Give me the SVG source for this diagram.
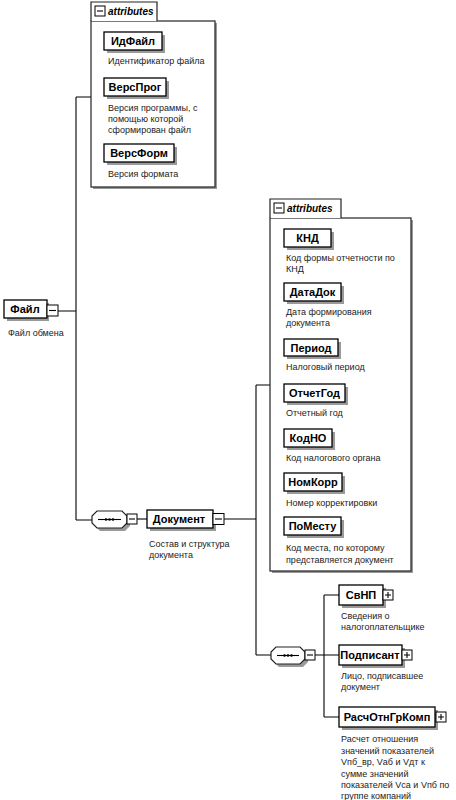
<svg xmlns="http://www.w3.org/2000/svg" width="456" height="800" viewBox="0 0 456 800">
<style>
.bg{fill:#fff}
.sh{fill:#9a9a9a}
.box{fill:#fff;stroke:#000;stroke-width:1.3}
.nm{font-family:"Liberation Sans",Arial,sans-serif;font-weight:bold;font-size:11px;fill:#000}
.ds{font-family:"Liberation Sans",Arial,sans-serif;font-size:9px;fill:#222}
.at{font-family:"Liberation Sans",Arial,sans-serif;font-weight:bold;font-style:italic;font-size:10px;fill:#000}
.ln{fill:none;stroke:#000;stroke-width:1.1}
.pm{fill:#fff;stroke:#000;stroke-width:1}
.grp{fill:#fff;stroke:#222;stroke-width:1.2}
</style>
<rect class="bg" x="0" y="0" width="456" height="800"/>

<g id="connectors">
  <path class="ln" d="M58,311 H76 M76,97 V520 M76,97 H91 M76,520 H92"/>
  <path class="ln" d="M137,519 H147"/>
  <path class="ln" d="M224,519 H256 M256,385 V655 M256,385 H270 M256,655 H271"/>
  <path class="ln" d="M313,655 H324 M324,595 V717 M324,595 H339 M324,655 H339 M324,717 H339"/>
</g>

<g id="attributes1">
  <rect class="sh" x="93" y="23" width="124" height="166"/>
  <rect class="grp" x="91" y="21" width="124" height="166"/>
  <path class="grp" d="M91,21 V2 H157 V21"/>
  <rect class="pm" x="95" y="6" width="10" height="10"/>
  <path class="ln" d="M97,11 H103"/>
  <text class="at" x="108" y="15">attributes</text>
</g>

<g id="n-IdFail">
  <rect class="sh" x="107" y="35" width="58" height="18"/>
  <rect class="box" x="104" y="32" width="58" height="18"/>
  <text class="nm" x="133" y="45" text-anchor="middle">ИдФайл</text>
  <text class="ds" x="108" y="64">Идентификатор файла</text>
</g>
<g id="n-VersProg">
  <rect class="sh" x="107" y="81" width="62" height="18"/>
  <rect class="box" x="104" y="78" width="62" height="18"/>
  <text class="nm" x="135" y="91" text-anchor="middle">ВерсПрог</text>
  <text class="ds" x="108" y="111">Версия программы, с</text>
  <text class="ds" x="108" y="122">помощью которой</text>
  <text class="ds" x="108" y="133">сформирован файл</text>
</g>
<g id="n-VersForm">
  <rect class="sh" x="107" y="147" width="70" height="18"/>
  <rect class="box" x="104" y="144" width="70" height="18"/>
  <text class="nm" x="139" y="157" text-anchor="middle">ВерсФорм</text>
  <text class="ds" x="108" y="177">Версия формата</text>
</g>

<g id="n-Fail">
  <rect class="sh" x="7" y="303" width="42" height="18"/>
  <rect class="box" x="4" y="300" width="43" height="18"/>
  <text class="nm" x="25" y="313" text-anchor="middle">Файл</text>
  <rect class="pm" x="47" y="305" width="11" height="11"/>
  <path class="ln" d="M49,310.5 H56"/>
  <text class="ds" x="8" y="336">Файл обмена</text>
</g>

<g id="seq1">
  <path class="sh" d="M100,514 H125 L130,519 V526 L125,531 H100 L95,526 V519 Z"/>
  <path class="grp" d="M97,511 H122 L127,516 V523 L122,528 H97 L92,523 V516 Z"/>
  <path class="ln" d="M98,519.5 H121"/>
  <circle cx="106" cy="519.5" r="1.3"/>
  <circle cx="109.5" cy="519.5" r="1.3"/>
  <circle cx="113" cy="519.5" r="1.3"/>
  <rect class="pm" x="127" y="514" width="10" height="10"/>
  <path class="ln" d="M129,519 H135"/>
</g>

<g id="n-Dokument">
  <rect class="sh" x="150" y="513" width="66" height="18"/>
  <rect class="box" x="147" y="510" width="66" height="18"/>
  <text class="nm" x="179" y="523" text-anchor="middle">Документ</text>
  <rect class="pm" x="213" y="513.5" width="11" height="11"/>
  <path class="ln" d="M215,519 H222"/>
  <text class="ds" x="149" y="547">Состав и структура</text>
  <text class="ds" x="149" y="558">документа</text>
</g>

<g id="attributes2">
  <rect class="sh" x="272" y="220" width="141" height="353"/>
  <rect class="grp" x="270" y="218" width="141" height="353"/>
  <path class="grp" d="M270,218 V199 H341 V218"/>
  <rect class="pm" x="274" y="203" width="10" height="10"/>
  <path class="ln" d="M276,208 H282"/>
  <text class="at" x="287" y="212">attributes</text>
</g>

<g id="n-KND">
  <rect class="sh" x="287" y="232" width="47" height="18"/>
  <rect class="box" x="284" y="229" width="47" height="18"/>
  <text class="nm" x="307.5" y="242" text-anchor="middle">КНД</text>
  <text class="ds" x="286" y="261">Код формы отчетности по</text>
  <text class="ds" x="286" y="272">КНД</text>
</g>
<g id="n-DataDok">
  <rect class="sh" x="287" y="286" width="57" height="18"/>
  <rect class="box" x="284" y="283" width="57" height="18"/>
  <text class="nm" x="312.5" y="296" text-anchor="middle">ДатаДок</text>
  <text class="ds" x="286" y="315">Дата формирования</text>
  <text class="ds" x="286" y="326">документа</text>
</g>
<g id="n-Period">
  <rect class="sh" x="287" y="342" width="54" height="17"/>
  <rect class="box" x="284" y="339" width="54" height="17"/>
  <text class="nm" x="311" y="351.5" text-anchor="middle">Период</text>
  <text class="ds" x="286" y="370">Налоговый период</text>
</g>
<g id="n-OtchetGod">
  <rect class="sh" x="287" y="387" width="61" height="18"/>
  <rect class="box" x="284" y="384" width="61" height="18"/>
  <text class="nm" x="314.5" y="397" text-anchor="middle">ОтчетГод</text>
  <text class="ds" x="286" y="416">Отчетный год</text>
</g>
<g id="n-KodNO">
  <rect class="sh" x="287" y="432" width="48" height="18"/>
  <rect class="box" x="284" y="429" width="48" height="18"/>
  <text class="nm" x="308" y="442" text-anchor="middle">КодНО</text>
  <text class="ds" x="286" y="461">Код налогового органа</text>
</g>
<g id="n-NomKorr">
  <rect class="sh" x="287" y="476" width="58" height="18"/>
  <rect class="box" x="284" y="473" width="58" height="18"/>
  <text class="nm" x="313" y="486" text-anchor="middle">НомКорр</text>
  <text class="ds" x="286" y="506">Номер корректировки</text>
</g>
<g id="n-PoMestu">
  <rect class="sh" x="287" y="520" width="57" height="18"/>
  <rect class="box" x="284" y="517" width="57" height="18"/>
  <text class="nm" x="312.5" y="530" text-anchor="middle">ПоМесту</text>
  <text class="ds" x="286" y="551">Код места, по которому</text>
  <text class="ds" x="286" y="563">представляется документ</text>
</g>

<g id="seq2">
  <path class="sh" d="M279,650 H303 L308,655 V662 L303,667 H279 L274,662 V655 Z"/>
  <path class="grp" d="M276,647 H300 L305,652 V659 L300,664 H276 L271,659 V652 Z"/>
  <path class="ln" d="M277,655.5 H299"/>
  <circle cx="284.5" cy="655.5" r="1.3"/>
  <circle cx="288" cy="655.5" r="1.3"/>
  <circle cx="291.5" cy="655.5" r="1.3"/>
  <rect class="pm" x="305" y="650" width="10" height="10"/>
  <path class="ln" d="M307,655 H313"/>
</g>

<g id="n-SvNP">
  <rect class="sh" x="342" y="588" width="44" height="20"/>
  <rect class="box" x="339" y="585" width="44" height="20"/>
  <text class="nm" x="361" y="599" text-anchor="middle">СвНП</text>
  <rect class="pm" x="383" y="590" width="10" height="10"/>
  <path class="ln" d="M385,595 H391 M388,592 V598"/>
  <text class="ds" x="341" y="619">Сведения о</text>
  <text class="ds" x="341" y="630">налогоплательщике</text>
</g>
<g id="n-Podpisant">
  <rect class="sh" x="342" y="648" width="63" height="20"/>
  <rect class="box" x="339" y="645" width="63" height="20"/>
  <text class="nm" x="370" y="659" text-anchor="middle">Подписант</text>
  <rect class="pm" x="402" y="650" width="10" height="10"/>
  <path class="ln" d="M404,655 H410 M407,652 V658"/>
  <text class="ds" x="341" y="679">Лицо, подписавшее</text>
  <text class="ds" x="341" y="690">документ</text>
</g>
<g id="n-RaschOtnGrKomp">
  <rect class="sh" x="342" y="710" width="96" height="20"/>
  <rect class="box" x="339" y="707" width="96" height="20"/>
  <text class="nm" x="387" y="721" text-anchor="middle">РасчОтнГрКомп</text>
  <rect class="pm" x="436" y="712" width="10" height="10"/>
  <path class="ln" d="M438,717 H444 M441,714 V720"/>
  <text class="ds" x="341" y="742">Расчет отношения</text>
  <text class="ds" x="341" y="753.5">значений показателей</text>
  <text class="ds" x="341" y="765">Vпб_вр, Vаб и Vдт к</text>
  <text class="ds" x="341" y="776.5">сумме значений</text>
  <text class="ds" x="341" y="788">показателей Vса и Vпб по</text>
  <text class="ds" x="341" y="799">группе компаний</text>
</g>
</svg>
